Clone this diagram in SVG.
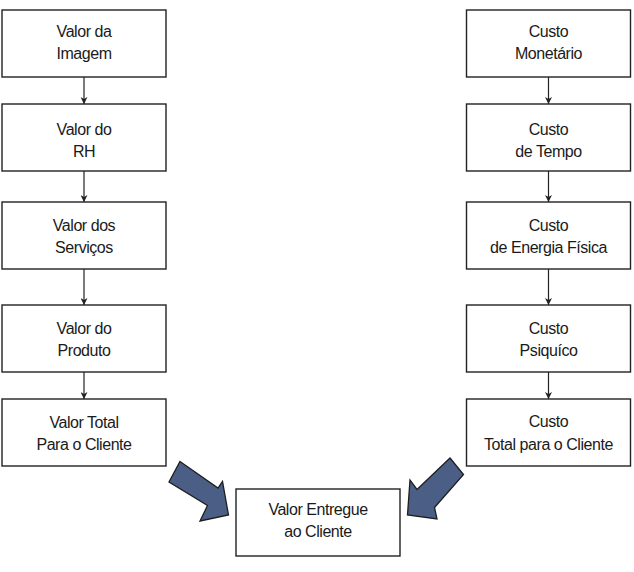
<svg xmlns="http://www.w3.org/2000/svg" width="634" height="572" viewBox="0 0 634 572">
<style>
.box{fill:#fff;stroke:#222;stroke-width:1.4}
.t{font-family:"Liberation Sans",Arial,sans-serif;font-size:16px;letter-spacing:-0.45px;fill:#1a1a1a;text-anchor:middle}
.c{stroke:#222;stroke-width:1.2;fill:none;marker-end:url(#ah)}
.big{fill:#4b5f86;stroke:#1e1e1e;stroke-width:1.3;stroke-linejoin:miter}
</style>
<defs>
<marker id="ah" viewBox="0 0 10 10" refX="10" refY="5" markerWidth="7" markerHeight="7" markerUnits="userSpaceOnUse" orient="auto">
<path d="M0,0 L10,5 L0,10 L3,5 Z" fill="#222"/>
</marker>
</defs>
<rect width="634" height="572" fill="#fff"/>
<g id="connectors">
<line class="c" x1="84" y1="77" x2="84" y2="104"/>
<line class="c" x1="84" y1="171" x2="84" y2="202"/>
<line class="c" x1="84" y1="269" x2="84" y2="305"/>
<line class="c" x1="84" y1="372" x2="84" y2="399"/>
<line class="c" x1="548.5" y1="77" x2="548.5" y2="104"/>
<line class="c" x1="548.5" y1="171" x2="548.5" y2="202"/>
<line class="c" x1="548.5" y1="269" x2="548.5" y2="305"/>
<line class="c" x1="548.5" y1="372" x2="548.5" y2="399"/>
<polygon id="arrow-left" class="big" points="180,461.5 218,488 222.5,481.5 228.5,515 200,521 207.5,505.5 169,482"/>
<polygon id="arrow-right" class="big" points="450,458 463.5,474.5 434.5,507.5 437,519 407.5,515 410,480 417,489.5"/>
</g>
<g id="n-imagem"><rect class="box" x="2" y="10" width="164" height="67"/><text class="t" x="84" y="37">Valor da</text><text class="t" x="84" y="58.5">Imagem</text></g>
<g id="n-rh"><rect class="box" x="2" y="104" width="164" height="67"/><text class="t" x="84" y="135">Valor do</text><text class="t" x="84" y="156.5">RH</text></g>
<g id="n-servicos"><rect class="box" x="2" y="202" width="164" height="67"/><text class="t" x="84" y="230.5">Valor dos</text><text class="t" x="84" y="252.5">Serviços</text></g>
<g id="n-produto"><rect class="box" x="2" y="305" width="164" height="67"/><text class="t" x="84" y="334">Valor do</text><text class="t" x="84" y="355.5">Produto</text></g>
<g id="n-valor-total"><rect class="box" x="2" y="399" width="164" height="67"/><text class="t" x="84" y="427.5">Valor Total</text><text class="t" x="84" y="450">Para o Cliente</text></g>
<g id="n-monetario"><rect class="box" x="466.5" y="10" width="164" height="67"/><text class="t" x="548.5" y="36.5">Custo</text><text class="t" x="548.5" y="58.5">Monetário</text></g>
<g id="n-tempo"><rect class="box" x="466.5" y="104" width="164" height="67"/><text class="t" x="548.5" y="135">Custo</text><text class="t" x="548.5" y="156.5">de Tempo</text></g>
<g id="n-energia"><rect class="box" x="466.5" y="202" width="164" height="67"/><text class="t" x="548.5" y="230.5">Custo</text><text class="t" x="548.5" y="253">de Energia Física</text></g>
<g id="n-psiquico"><rect class="box" x="466.5" y="305" width="164" height="67"/><text class="t" x="548.5" y="333.5">Custo</text><text class="t" x="548.5" y="355.5">Psiquíco</text></g>
<g id="n-custo-total"><rect class="box" x="466.5" y="399" width="164" height="67"/><text class="t" x="548.5" y="427">Custo</text><text class="t" x="548.5" y="449.5">Total para o Cliente</text></g>
<g id="n-entregue"><rect class="box" x="236" y="489" width="164" height="67"/><text class="t" x="318" y="515">Valor Entregue</text><text class="t" x="318" y="537">ao Cliente</text></g>
</svg>
